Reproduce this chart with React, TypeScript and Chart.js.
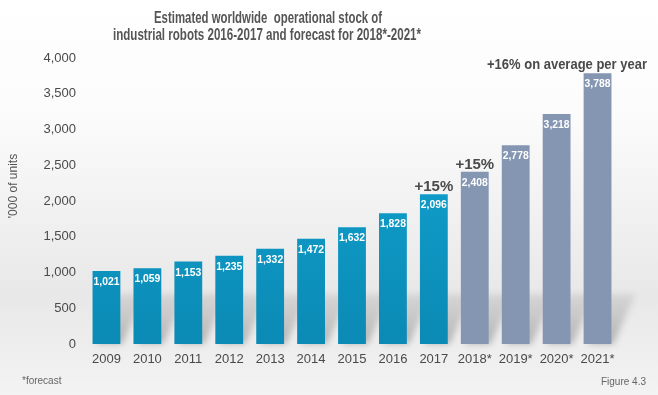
import React, { useEffect, useRef } from "react";
import { Chart, registerables } from "chart.js";

Chart.register(...registerables);

const categories = ["2009", "2010", "2011", "2012", "2013", "2014", "2015", "2016", "2017", "2018*", "2019*", "2020*", "2021*"];
const stockValues = [1021, 1059, 1153, 1235, 1332, 1472, 1632, 1828, 2096, 2408, 2778, 3218, 3788];
const isForecast = [false, false, false, false, false, false, false, false, false, true, true, true, true];
const growthNotes = [
  { index: 8, text: "+15%" },
  { index: 9, text: "+15%" },
];
const averageNote = "+16% on average per year";
const titleLines = ["Estimated worldwide  operational stock of", "industrial robots 2016-2017 and forecast for 2018*-2021*"];
const yAxisTitle = "'000 of units";
const footLeft = "*forecast";
const footRight = "Figure 4.3";

const FONT = "'Liberation Sans', Arial, sans-serif";

const bgPlugin = {
  id: "bg",
  beforeDraw(chart: any) {
    const { ctx, width, height } = chart;
    ctx.save();
    const g = ctx.createLinearGradient(0, 0, 0, height);
    g.addColorStop(0, "#ffffff");
    g.addColorStop(0.3, "#fbfbfb");
    g.addColorStop(0.75, "#e8e8e8");
    g.addColorStop(1, "#f3f3f3");
    ctx.fillStyle = g;
    ctx.fillRect(0, 0, width, height);
    ctx.restore();
  },
  beforeDatasetsDraw(chart: any) {
    const { ctx } = chart;
    const meta = chart.getDatasetMeta(0);
    ctx.save();
    ctx.filter = "blur(3px)";
    meta.data.forEach((bar: any) => {
      const half = bar.width / 2;
      const base = bar.base;
      const h = 50;
      const g = ctx.createLinearGradient(0, base, 0, base - h);
      g.addColorStop(0, "rgba(140,140,140,0.6)");
      g.addColorStop(1, "rgba(170,170,170,0.3)");
      ctx.fillStyle = g;
      ctx.beginPath();
      ctx.moveTo(bar.x - half + 4, base);
      ctx.lineTo(bar.x + half + 2, base);
      ctx.lineTo(bar.x + half + 24, base - h);
      ctx.lineTo(bar.x - half + 26, base - h);
      ctx.closePath();
      ctx.fill();
    });
    ctx.restore();
  },
};

function drawFitted(ctx: any, text: string, cx: number, cy: number, targetW: number) {
  const w = ctx.measureText(text).width;
  const s = targetW / w;
  ctx.save();
  ctx.translate(cx, cy);
  ctx.scale(s, 1);
  ctx.fillText(text, 0, 0);
  ctx.restore();
}

const textPlugin = {
  id: "texts",
  afterDatasetsDraw(chart: any) {
    const { ctx } = chart;
    const meta = chart.getDatasetMeta(0);
    ctx.save();
    // value labels
    ctx.fillStyle = "#ffffff";
    ctx.font = `bold 11px ${FONT}`;
    ctx.textAlign = "center";
    ctx.textBaseline = "middle";
    meta.data.forEach((bar: any, i: number) => {
      drawFitted(ctx, stockValues[i].toLocaleString("en-US"), bar.x, bar.y + 11, 26);
    });
    // growth notes
    ctx.fillStyle = "#4a4a4a";
    ctx.font = `bold 15px ${FONT}`;
    ctx.textBaseline = "alphabetic";
    growthNotes.forEach((n) => {
      const bar = meta.data[n.index];
      ctx.fillText(n.text, bar.x, bar.y - 3);
    });
    ctx.font = `bold 14px ${FONT}`;
    drawFitted(ctx, averageNote, 567, 69, 160);
    // title
    ctx.fillStyle = "#555555";
    ctx.font = `bold 16px ${FONT}`;
    ctx.textBaseline = "middle";
    drawFitted(ctx, titleLines[0], 268, 19, 228);
    drawFitted(ctx, titleLines[1], 267, 36, 308);
    // axis title
    ctx.font = `12px ${FONT}`;
    ctx.fillStyle = "#555555";
    ctx.save();
    ctx.translate(14, 186);
    ctx.rotate(-Math.PI / 2);
    ctx.fillText(yAxisTitle, 0, 0);
    ctx.restore();
    // footnotes
    ctx.font = `10px ${FONT}`;
    ctx.fillStyle = "#666666";
    ctx.textAlign = "left";
    ctx.fillText(footLeft, 22, 381);
    ctx.textAlign = "right";
    ctx.fillText(footRight, 646, 382);
    ctx.restore();
  },
};

export default function App() {
  const ref = useRef<HTMLCanvasElement>(null);
  useEffect(() => {
    document.body.style.margin = "0";
    const canvas = ref.current!;
    const chart = new Chart(canvas, {
      type: "bar",
      data: {
        labels: categories,
        datasets: [
          {
            data: stockValues,
            backgroundColor: (c: any) => {
              if (isForecast[c.dataIndex]) return "#8496b2";
              const area = c.chart.chartArea;
              if (!area) return "#0b9bcb";
              const g = c.chart.ctx.createLinearGradient(0, area.top, 0, area.bottom);
              g.addColorStop(0, "#14a9d8");
              g.addColorStop(1, "#0a8ab4");
              return g;
            },
            categoryPercentage: 1,
            barPercentage: 0.68,
          },
        ],
      },
      options: {
        responsive: false,
        animation: false,
        devicePixelRatio: 1,
        layout: { padding: { top: 58, right: 40, left: 0, bottom: 0 } },
        plugins: { legend: { display: false }, tooltip: { enabled: false }, title: { display: false } },
        scales: {
          x: {
            grid: { display: false, drawTicks: false },
            border: { display: false },
            ticks: { color: "#4a4a4a", font: { family: FONT, size: 13 }, padding: 8, maxRotation: 0 },
            afterFit: (s: any) => {
              s.height = 51;
            },
          },
          y: {
            min: 0,
            max: 4000,
            grid: { display: false, drawTicks: false },
            border: { display: false },
            ticks: {
              stepSize: 500,
              color: "#4a4a4a",
              padding: 10,
              font: { family: FONT, size: 13 },
              callback: (v: any) => Number(v).toLocaleString("en-US"),
            },
            afterFit: (s: any) => {
              s.width = 86;
            },
          },
        },
      },
      plugins: [bgPlugin, textPlugin],
    });
    return () => chart.destroy();
  }, []);
  return (
    <div style={{ width: 658, height: 395 }}>
      <canvas ref={ref} width={658} height={395} />
    </div>
  );
}
